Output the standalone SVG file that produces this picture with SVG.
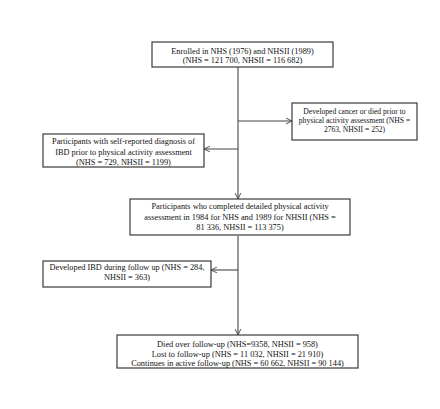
<svg xmlns="http://www.w3.org/2000/svg" width="440" height="409" viewBox="0 0 440 409">
<style>
.box{fill:#fff;stroke:#3a3a3a;stroke-width:1.2}
.t{font-family:"Liberation Serif","Times New Roman",serif;font-size:8.3px;fill:#111;text-anchor:middle}
.s{font-size:7.6px}
.ln{stroke:#444;stroke-width:1.1;fill:none}
</style>
<defs>
<marker id="ah" viewBox="0 0 10 10" refX="9.5" refY="5" markerWidth="7" markerHeight="7" markerUnits="userSpaceOnUse" orient="auto">
<path d="M1,1 L9.5,5 L1,9" fill="none" stroke="#444" stroke-width="1.3"/>
</marker>
</defs>
<rect width="440" height="409" fill="#fff"/>
<g id="connectors">
<line class="ln" x1="238" y1="67" x2="238" y2="199" marker-end="url(#ah)"/>
<line class="ln" x1="238" y1="121" x2="292" y2="121" marker-end="url(#ah)"/>
<line class="ln" x1="238" y1="149" x2="204" y2="149" marker-end="url(#ah)"/>
<line class="ln" x1="238" y1="236" x2="238" y2="335" marker-end="url(#ah)"/>
<line class="ln" x1="238" y1="270" x2="211" y2="270" marker-end="url(#ah)"/>
</g>
<g id="enrolled">
<rect class="box" x="152" y="42" width="181" height="25"/>
<text class="t" x="242.5" y="54">Enrolled in NHS (1976) and NHSII (1989)</text>
<text class="t" x="242.5" y="63">(NHS = 121 700, NHSII = 116 682)</text>
</g>
<g id="cancer">
<rect class="box" x="292" y="103" width="125" height="37"/>
<text class="t s" x="354.5" y="113.5">Developed cancer or died prior to</text>
<text class="t s" x="354.5" y="122.5">physical activity assessment (NHS =</text>
<text class="t s" x="354.5" y="131.5">2763, NHSII = 252)</text>
</g>
<g id="ibd-prior">
<rect class="box" x="43" y="134" width="161" height="33"/>
<text class="t" x="123.5" y="144">Participants with self-reported diagnosis of</text>
<text class="t" x="123.5" y="154.5">IBD prior to physical activity assessment</text>
<text class="t" x="123.5" y="165">(NHS = 729, NHSII = 1199)</text>
</g>
<g id="completed">
<rect class="box" x="130" y="199" width="220" height="36"/>
<text class="t" x="240" y="209">Participants who completed detailed physical activity</text>
<text class="t" x="240" y="219.5">assessment in 1984 for NHS and 1989 for NHSII (NHS =</text>
<text class="t" x="240" y="230">81 336, NHSII = 113 375)</text>
</g>
<g id="ibd-follow">
<rect class="box" x="43" y="261" width="168" height="26"/>
<text class="t" x="127" y="270">Developed IBD during follow up (NHS = 284,</text>
<text class="t" x="127" y="280">NHSII = 363)</text>
</g>
<g id="outcomes">
<rect class="box" x="117" y="335" width="241" height="33"/>
<text class="t" x="237.5" y="347">Died over follow-up (NHS=9358, NHSII = 958)</text>
<text class="t" x="237.5" y="356.5">Lost to follow-up (NHS = 11 032, NHSII = 21 910)</text>
<text class="t" x="237.5" y="366">Continues in active follow-up (NHS = 60 662, NHSII = 90 144)</text>
</g>
</svg>
